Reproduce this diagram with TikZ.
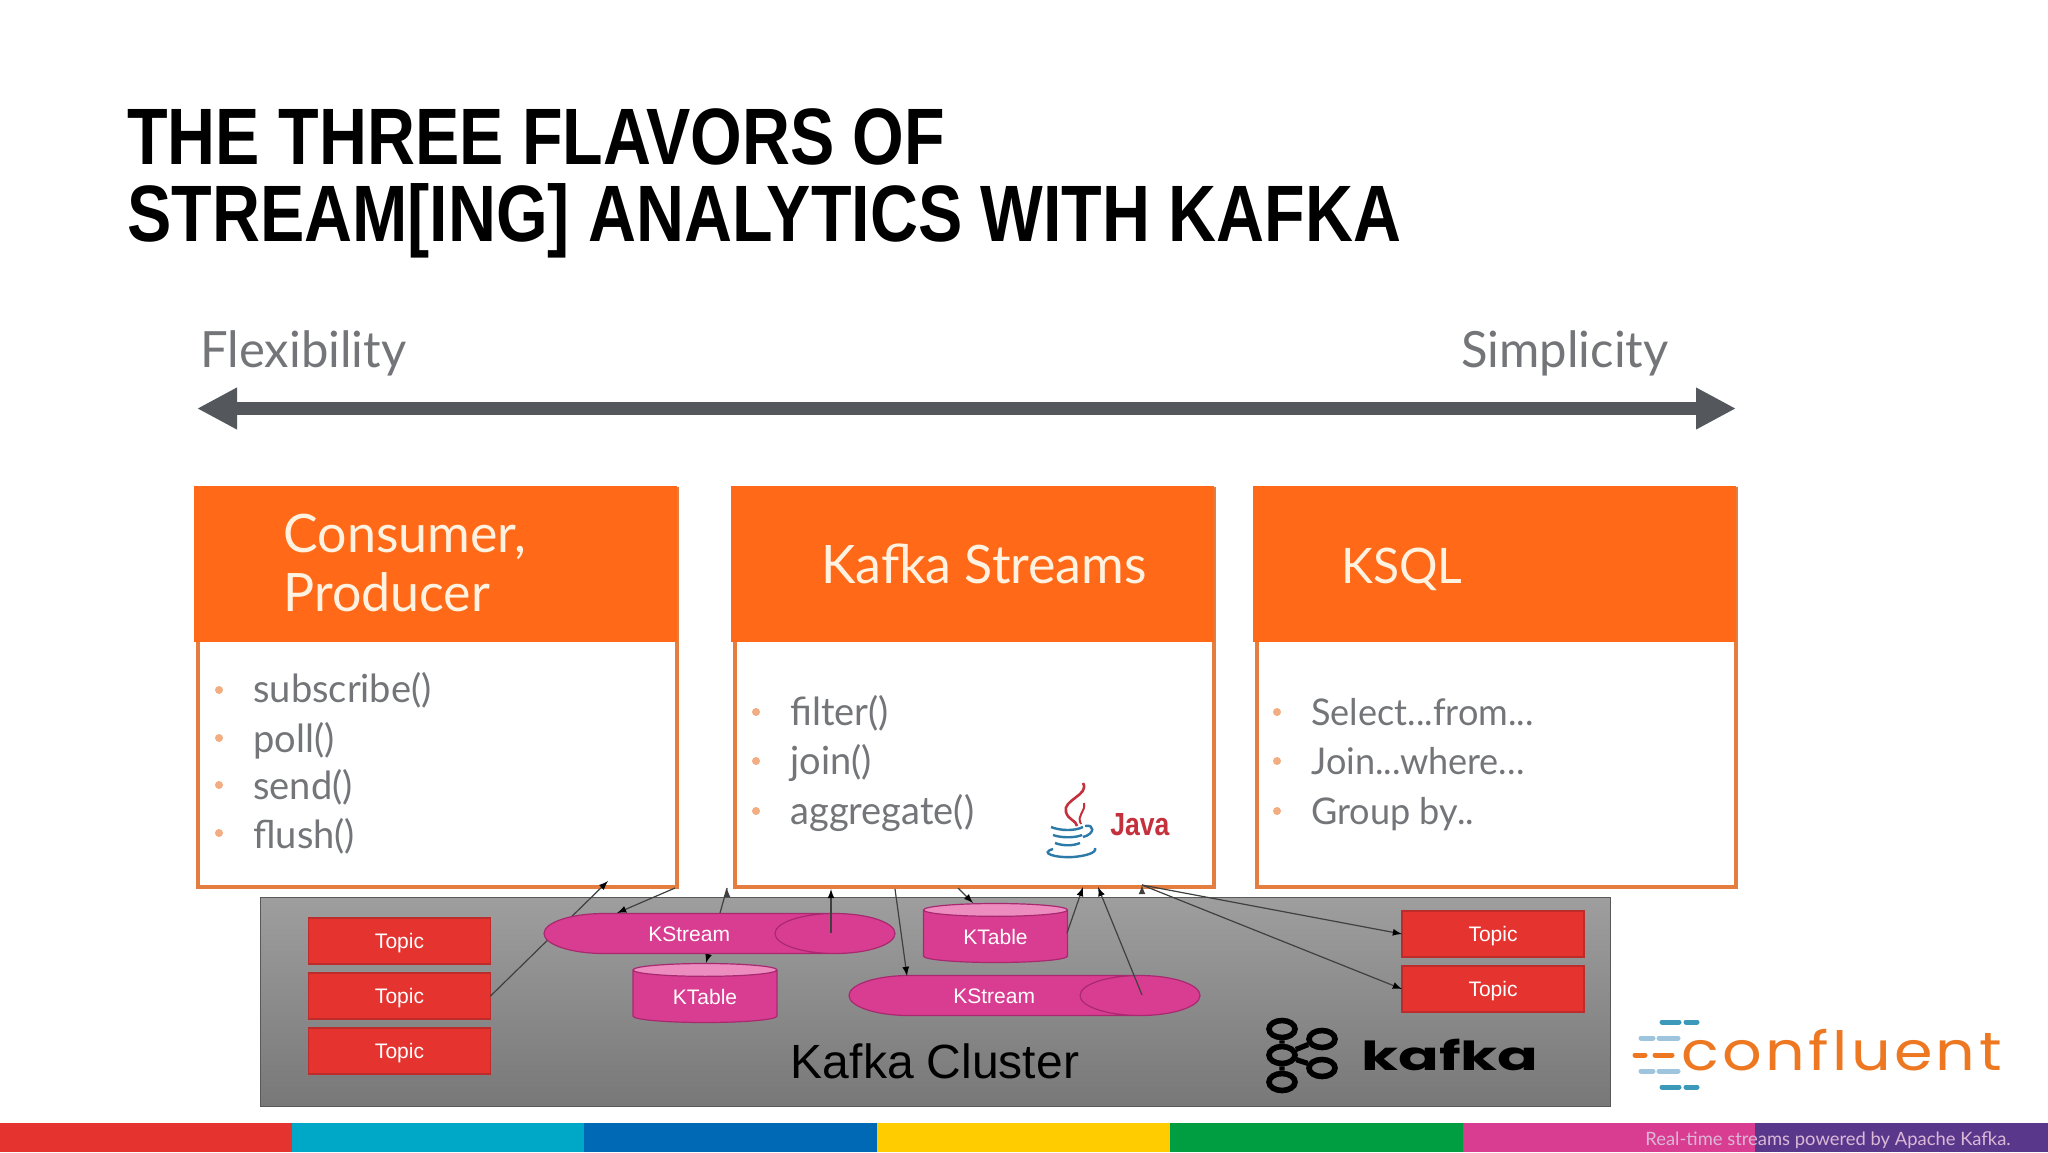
\documentclass[tikz,border=0pt]{standalone}
\usepackage{fontspec}
\setmainfont{Liberation Sans}
\newfontfamily\narrowfont[FakeStretch=0.83]{Liberation Sans}
\newfontfamily\softfont[FakeStretch=0.98]{Lato}
\newfontfamily\footfont{Lato}
\newfontfamily\logofont[FakeStretch=1.5]{Poppins}
\newfontfamily\brandfont[FakeStretch=1.15,LetterSpace=6.2]{Poppins}
\usetikzlibrary{positioning,arrows.meta,shapes.geometric}
\definecolor{barclr}{rgb}{0.33, 0.34, 0.36}
\definecolor{softclr}{rgb}{0.45, 0.46, 0.47}
\definecolor{headclr}{rgb}{1.0, 0.41, 0.09}
\definecolor{rimclr}{rgb}{0.89, 0.49, 0.25}
\definecolor{creamclr}{rgb}{1.0, 0.95, 0.88}
\definecolor{dotclr}{rgb}{0.95, 0.68, 0.50}
\definecolor{topicclr}{rgb}{0.90, 0.20, 0.19}
\definecolor{topiclineclr}{rgb}{0.74, 0.17, 0.17}
\definecolor{pinkclr}{rgb}{0.85, 0.24, 0.57}
\definecolor{pinklineclr}{rgb}{0.66, 0.16, 0.44}
\definecolor{pinktopclr}{rgb}{0.93, 0.55, 0.75}
\definecolor{wireclr}{rgb}{0.25, 0.25, 0.25}
\definecolor{javaredclr}{rgb}{0.77, 0.19, 0.23}
\definecolor{javablueclr}{rgb}{0.17, 0.48, 0.66}
\definecolor{brandclr}{rgb}{0.93, 0.47, 0.13}
\definecolor{dashblueclr}{rgb}{0.24, 0.60, 0.73}
\definecolor{dashpaleclr}{rgb}{0.62, 0.77, 0.87}
\definecolor{stripcyanclr}{rgb}{0.0, 0.66, 0.78}
\definecolor{stripblueclr}{rgb}{0.0, 0.41, 0.71}
\definecolor{stripyellowclr}{rgb}{1.0, 0.80, 0.0}
\definecolor{stripgreenclr}{rgb}{0.0, 0.62, 0.25}
\definecolor{strippurpleclr}{rgb}{0.35, 0.22, 0.55}
\definecolor{footclr}{rgb}{0.86, 0.72, 0.84}
\tikzset{ %
  ,>=latex
  ,slidetitle/.style={inner sep=0, anchor=base west, font=\narrowfont\bfseries\fontsize{40pt}{40pt}\selectfont}
  ,scaleword/.style={inner sep=0, anchor=base west, text=softclr, font=\softfont\fontsize{25pt}{25pt}\selectfont}
  ,scalebar/.style={line width=6.5pt, draw=barclr, {Triangle[length=20pt,width=19.5pt]}-{Triangle[length=20pt,width=19.5pt]}}
  ,card/.style={draw=rimclr, line width=2pt, fill=white, anchor=north west, inner sep=0, minimum width=239.5pt, minimum height=199pt}
  ,cardhead/.style={fill=headclr, anchor=north west, inner sep=0, minimum width=241.5pt, minimum height=78pt}
  ,headtxt/.style={inner sep=0, anchor=west, align=left, text=creamclr, font=\softfont\fontsize{26.5pt}{29.5pt}\selectfont}
  ,listdot/.style={circle, fill=dotclr, inner sep=0, minimum size=4pt}
  ,listtxt/.style={inner sep=0, anchor=base west, text=softclr, font=\softfont\fontsize{19.4pt}{19.4pt}\selectfont}
  ,querytxt/.style={listtxt, font=\softfont\fontsize{18.4pt}{18.4pt}\selectfont}
  ,cluster/.style={draw=black!65, line width=0.7pt, top color=black!38, bottom color=black!53, anchor=north west, inner sep=0, minimum width=675pt, minimum height=104.5pt}
  ,topicbox/.style={draw=topiclineclr, line width=0.6pt, fill=topicclr, text=white, inner sep=0, outer sep=0, text height=7.5pt, text depth=0pt, minimum width=91pt, minimum height=23pt, node distance=4.5pt, font=\fontsize{10.5pt}{10.5pt}\selectfont}
  ,streamcan/.style={cylinder, aspect=8, anchor=shape center, draw=pinklineclr, line width=0.6pt, cylinder uses custom fill, cylinder body fill=pinkclr, cylinder end fill=pinkclr, text=white, inner sep=0, outer sep=0, text height=7.5pt, text depth=0pt, minimum height=175.5pt, minimum width=20pt, font=\fontsize{10.5pt}{10.5pt}\selectfont}
  ,tablecyl/.style={cylinder, shape border rotate=90, aspect=0.2, draw=pinklineclr, line width=0.6pt, cylinder uses custom fill, cylinder body fill=pinkclr, cylinder end fill=pinktopclr, text=white, inner sep=0, outer sep=0, text height=7.5pt, text depth=0pt, minimum width=72pt, minimum height=29.5pt, font=\fontsize{10.5pt}{10.5pt}\selectfont}
  ,wire/.style={draw=wireclr, line width=0.6pt}
  ,logoring/.style={ellipse, draw=black, line width=2.8pt, inner sep=0, minimum width=13pt, minimum height=8.5pt}
  ,dashline/.style={line width=2.5pt, line cap=round}
}
\begin{document}
\begin{tikzpicture}[x=0.5pt, y=-0.5pt]
  \useasboundingbox (0,0) rectangle (2048,1152);
  \fill[white] (0,0) rectangle (2048,1152);

  \draw
  node[slidetitle] (titleA) at (127,164.5) {THE THREE FLAVORS OF}
  node[slidetitle] (titleB) at (127,241.5) {STREAM[ING] ANALYTICS WITH KAFKA}
  node[scaleword] (flex) at (200,367) {Flexibility}
  node[scaleword] (simple) at (1461,367) {Simplicity};
  \coordinate (barL) at (197,408.5);
  \coordinate (barR) at (1736,408.5);
  \draw[scalebar] (barL) -- (barR);

  \draw
  node[card] (cardA) at (196,487) {}
  node[card] (cardB) at (733,487) {}
  node[card] (cardC) at (1255,487) {}
  node[cardhead] (headA) at (194,486) {}
  node[cardhead] (headB) at (731,486) {}
  node[cardhead] (headC) at (1253,486) {}
  node[headtxt] (nameA) at (283,563) {Consumer,\\Producer}
  node[headtxt, anchor=base west] (nameB) at (821,583) {Kafka Streams}
  node[headtxt, anchor=base west, font=\softfont\fontsize{24.5pt}{29.5pt}\selectfont] (nameC) at (1341,583) {KSQL};

  \draw
  node[listdot] (dotA) at (219,690) {}
  node[listdot] (dotB) at (219,738) {}
  node[listdot] (dotC) at (219,785) {}
  node[listdot] (dotD) at (219,833) {}
  node[listtxt] (subscribe) at (253,702) {subscribe()}
  node[listtxt] (poll) at (253,752) {poll()}
  node[listtxt] (send) at (253,799) {send()}
  node[listtxt] (flush) at (253,848) {flush()}
  node[listdot] (dotE) at (756,712) {}
  node[listdot] (dotF) at (756,761) {}
  node[listdot] (dotG) at (756,811) {}
  node[listtxt] (filter) at (790,725) {filter()}
  node[listtxt] (join) at (790,774) {join()}
  node[listtxt] (aggregate) at (790,824) {aggregate()}
  node[listdot] (dotH) at (1277,712) {}
  node[listdot] (dotI) at (1277,761) {}
  node[listdot] (dotJ) at (1277,811) {}
  node[querytxt] (select) at (1311,725) {Select...from...}
  node[querytxt] (where) at (1311,774) {Join...where...}
  node[querytxt] (group) at (1311,824) {Group by..};

  \draw[draw=javaredclr, line width=1.3pt] (1083,783) .. controls (1090,795) and (1062,800) .. (1066,812) .. controls (1068,820) and (1076,820) .. (1077,826);
  \draw[draw=javaredclr, line width=1pt] (1084,803) .. controls (1086,812) and (1076,815) .. (1081,824);
  \draw[draw=javablueclr, line width=1.2pt] (1051,827) .. controls (1061,831) and (1075,831) .. (1083,827) (1053,835) .. controls (1061,838) and (1075,838) .. (1082,835) (1055,843) .. controls (1063,846) and (1073,846) .. (1080,843) (1085,826) .. controls (1095,824) and (1095,834) .. (1083,837) (1053,849) .. controls (1039,853) and (1055,858) .. (1073,857) .. controls (1085,856) and (1097,853) .. (1095,848);
  \node[inner sep=0, anchor=base west, text=javaredclr, font=\narrowfont\bfseries\fontsize{16pt}{16pt}\selectfont] (java) at (1110,835) {Java};

  \draw node[cluster] (kcluster) at (260,897) {};
  \draw
  node[topicbox] (topicA) at (399.5,941) {Topic}
  node[topicbox, below=of topicA] (topicB) {Topic}
  node[topicbox, below=of topicB] (topicC) {Topic}
  node[topicbox] (topicD) at (1493,934) {Topic}
  node[topicbox, below=of topicD] (topicE) {Topic};

  \coordinate (apiIn) at (608,881);
  \coordinate (apiOut) at (675,888);
  \coordinate (streamIn) at (617,913);
  \coordinate (dslOut) at (727,888);
  \coordinate (tableIn) at (706,963);
  \coordinate (dslUp) at (831,889);
  \coordinate (dslDown) at (895,889);
  \coordinate (streamTwoIn) at (907,976);
  \coordinate (dslTable) at (958,888);
  \coordinate (tableTwoIn) at (973,903);
  \coordinate (tableOut) at (1067,933);
  \coordinate (tableUp) at (1083,887);
  \coordinate (streamUp) at (1098,887);
  \coordinate (dslSink) at (1142,885);
  \coordinate (streamAOut) at (831,933);
  \coordinate (streamBOut) at (1142,995);
  \draw[wire,->] (topicB.east) edge (apiIn) (dslOut) edge (tableIn);

  \draw
  node[streamcan] (streamA) at (719.5,933.5) {KStream}
  node[streamcan] (streamB) at (1024.5,995.5) {KStream}
  node[tablecyl] (tableA) at (705,996.5) {KTable}
  node[tablecyl] (tableB) at (995.5,936.5) {KTable};

  \draw[wire,->] (apiOut) edge (streamIn) (streamAOut) edge (dslUp) (dslDown) edge (streamTwoIn) (dslTable) edge (tableTwoIn) (tableOut) edge (tableUp) (streamBOut) edge (streamUp) (dslSink) edge (topicD.west) (dslSink) edge (topicE.west);

  \node[inner sep=0, font=\fontsize{24pt}{24pt}\selectfont] (clusterName) at (935,1061) {Kafka Cluster};
  \draw
  node[logoring] (ringA) at (1282,1029) {}
  node[logoring] (ringB) at (1282,1055) {}
  node[logoring] (ringC) at (1282,1082) {}
  node[logoring] (ringD) at (1322,1039) {}
  node[logoring] (ringE) at (1322,1068) {};
  \draw[line width=2.6pt] (ringA) -- (ringB) (ringB) -- (ringC) (ringB) -- (ringD) (ringB) -- (ringE);
  \node[inner sep=0, anchor=base west, font=\logofont\bfseries\fontsize{20pt}{20pt}\selectfont] (kafkaWord) at (1361,1070) {kafka};

  \node[inner sep=0, anchor=base west, text=brandclr, font=\brandfont\fontsize{27pt}{27pt}\selectfont] (brand) at (1681,1070) {confluent};
  \draw[dashline, dashblueclr] (1662,1022) -- (1679,1022) (1686,1022) -- (1697,1022) (1662,1087) -- (1679,1087) (1686,1087) -- (1697,1087);
  \draw[dashline, dashpaleclr] (1641,1038) -- (1653,1038) (1659,1038) -- (1678,1038) (1641,1071) -- (1653,1071) (1659,1071) -- (1678,1071);
  \draw[dashline, brandclr] (1635,1055) -- (1645,1055) (1655,1055) -- (1672,1055);

  \fill[topicclr] (0,1123) rectangle (292,1152);
  \fill[stripcyanclr] (292,1123) rectangle (584,1152);
  \fill[stripblueclr] (584,1123) rectangle (877,1152);
  \fill[stripyellowclr] (877,1123) rectangle (1170,1152);
  \fill[stripgreenclr] (1170,1123) rectangle (1463,1152);
  \fill[pinkclr] (1463,1123) rectangle (1755,1152);
  \fill[strippurpleclr] (1755,1123) rectangle (2048,1152);
  \node[inner sep=0, anchor=base west, text=footclr, font=\footfont\fontsize{9.2pt}{9.2pt}\selectfont] (tagline) at (1645,1145) {Real-time streams powered by Apache Kafka.};
\end{tikzpicture}
\end{document}
